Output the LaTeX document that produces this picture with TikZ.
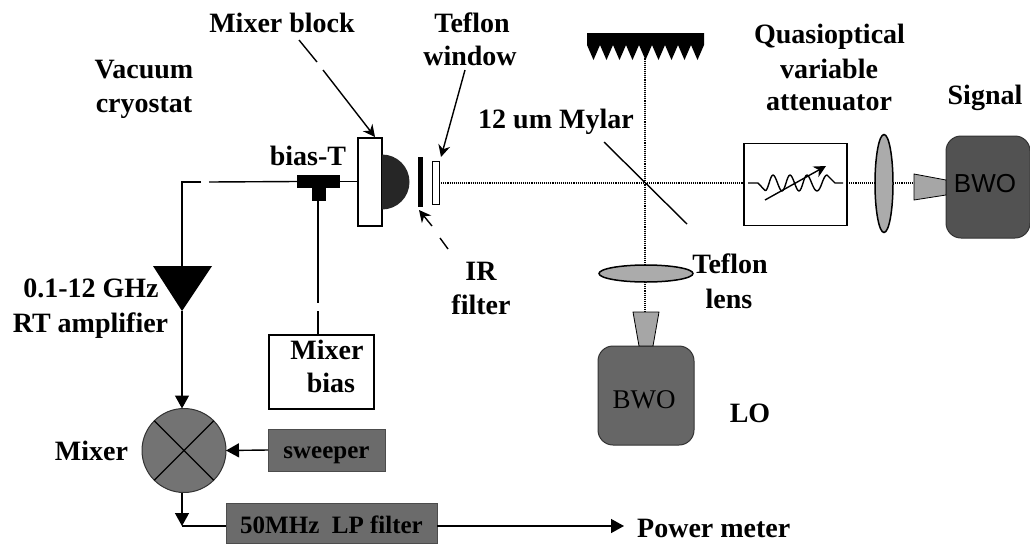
\documentclass[tikz,border=0pt]{standalone}
\usepackage{fontspec}
\setmainfont{Liberation Serif}
\setsansfont{Liberation Sans}
\usetikzlibrary{arrows.meta,shapes.geometric}
\begin{document}
\begin{tikzpicture}[
	x=1pt, y=-1pt,
	lbl/.style={font=\fontsize{28}{30}\selectfont\bfseries, anchor=base, inner sep=0pt},
	box/.style={draw, line width=1.4pt, fill=white, inner sep=0pt, outer sep=0pt},
	graybox/.style={draw=black!70, line width=0.6pt, fill=black!58, inner sep=0pt, outer sep=0pt, font=\fontsize{25}{28}\selectfont\bfseries},
	bwo/.style={draw=black!80, line width=1pt, rounded corners=15pt, inner sep=0pt, outer sep=0pt},
	lens/.style={ellipse, draw, line width=1.5pt, fill=black!33, inner sep=0pt, outer sep=0pt},
	solid/.style={fill=black, inner sep=0pt, outer sep=0pt},
	wire/.style={line width=1.4pt},
	arr/.style={line width=1.4pt, -{Triangle[length=13pt,width=14pt]}},
	thin arr/.style={line width=1.4pt, -{Stealth[length=12pt,width=12pt]}},
	beam/.style={line width=1.1pt, densely dotted}
]
\useasboundingbox (0,0) rectangle (1030,544);

% receiver side
\node[box, minimum width=24pt, minimum height=88pt] (block) at (370,182) {};
\fill[black!85] (382,154.5) arc[start angle=90, end angle=-90, radius=27.5pt] -- cycle;
\node[solid, minimum width=5pt, minimum height=50pt] (irfilter) at (420.5,182) {};
\node[box, line width=1pt, minimum width=7pt, minimum height=43pt] (window) at (435.5,182.5) {};
\node[solid, minimum width=43pt, minimum height=13pt] (biasT) at (318.5,181.5) {};
\node[solid, minimum width=14pt, minimum height=14pt] (biasTstem) at (319,194) {};
\node[box, minimum width=105pt, minimum height=74pt] (bias) at (321.5,372) {};

% amplifier and mixer
\coordinate (ampL) at (153,266);
\coordinate (ampR) at (212,266);
\coordinate (ampT) at (182,311);
\fill (ampL) -- (ampR) -- (ampT) -- cycle;
\node[circle, draw=black!80, line width=1pt, fill=black!55, minimum size=84pt, inner sep=0pt, outer sep=0pt] (mix) at (184,450.5) {};
\draw[line width=1.2pt] (mix.45) -- (mix.225) (mix.135) -- (mix.315);
\node[graybox, minimum width=117pt, minimum height=42pt] (sweeper) at (326.5,450) {\raisebox{-8pt}[0pt][0pt]{sweeper}};
\node[graybox, minimum width=211pt, minimum height=40pt] (lpf) at (331.5,523.5) {\raisebox{-9.5pt}[0pt][0pt]{50MHz\ \ LP filter}};

% quasioptics
\node[box, minimum width=103pt, minimum height=82pt] (atten) at (795.5,184.5) {};
\node[lens, minimum width=18pt, minimum height=98pt] (siglens) at (884,183.5) {};
\node[lens, minimum width=94pt, minimum height=17pt] (lolens) at (646,273.5) {};
\node[bwo, fill=black!68, minimum width=84pt, minimum height=102pt] (sigbwo) at (988,187) {};
\node[bwo, fill=black!60, minimum width=96pt, minimum height=99pt] (lobwo) at (646,395.5) {};
\node[font=\fontsize{26}{28}\selectfont\sffamily, text=black, inner sep=0pt] (sigbwotxt) at (985,183.5) {BWO};
\node[font=\fontsize{27}{28}\selectfont, text=black, inner sep=0pt] (lobwotxt) at (644,400) {BWO};
\coordinate (sighorn) at (914,187);
\coordinate (lohorn) at (646,312);
\draw[line width=0.8pt, fill=black!35] (sighorn |- 0,174) -- (946,180) -- (946,195) -- (sighorn |- 0,200) -- cycle;
\draw[line width=0.8pt, fill=black!35] (lohorn -| 633,0) -- (lohorn -| 659,0) -- (653,346) -- (639,346) -- cycle;

% grating
\coordinate (grating) at (645,50);
\fill (587,33) -- (704,33) -- (704,45)
	\foreach \i in {8,...,0} { -- ({587+13*\i+6.5},60) -- ({587+13*\i},45) } -- cycle;

% beam path
\coordinate (cross) at (645,183);
\draw[beam] (window.east |- cross) -- (atten.west |- cross);
\draw[beam] (atten.east |- cross) -- (siglens.west |- cross);
\draw[beam] (siglens.east |- cross) -- (sighorn |- cross);
\draw[beam] (grating) -- (lolens.north -| cross);
\draw[beam] (lolens.south -| cross) -- (lohorn -| cross);

% mylar
\coordinate (mylarA) at (604,142);
\coordinate (mylarB) at (687,224);
\draw[line width=1.4pt] (mylarA) -- (mylarB);

% attenuator symbol
\draw[wire, line join=round] (748,183) -- (758,183) -- (765,190.5)
	.. controls (768,192) and (770,175) .. (773,175)
	.. controls (776,175) and (779,191) .. (782,191)
	.. controls (785,191) and (787,175) .. (790,175)
	.. controls (793,175) and (796,191) .. (799,191)
	.. controls (802,191) and (804,175) .. (807,175)
	.. controls (810,175) and (813,191) .. (817,191)
	.. controls (821,191) and (823,175) .. (827,175)
	-- (835,183) -- (843,183);
\coordinate (attA) at (765,200);
\coordinate (attB) at (826,166);
\draw[thin arr] (attA) -- (attB);

% wires
\coordinate (corner) at (182,182);
\coordinate (gapA) at (201,182);
\coordinate (gapB) at (209,182);
\coordinate (gapC) at (318,303);
\coordinate (gapD) at (318,311);
\draw[wire] (block.west |- biasT) -- (biasT.east);
\draw[wire] (biasT.west) -- (gapB);
\draw[wire] (gapA) -- (corner) -- (ampT |- ampL);
\draw[wire] (biasTstem.south -| gapC) -- (gapC);
\draw[wire] (gapD) -- (gapD |- bias.north);
\draw[arr] (ampT) -- (mix.north -| ampT);
\draw[arr] (sweeper.west) -- (mix.east);
\coordinate (lpturn) at (182,526);
\coordinate (powertip) at (624,526);
\draw[arr] (mix.south -| lpturn) -- (lpturn);
\draw[wire] (lpturn) -- (lpf.west |- lpturn);
\draw[arr] (lpf.east |- lpturn) -- (powertip);
\node[lbl, anchor=base west] (power) at (637,537) {Power meter};

% pointers
\coordinate (blockA) at (299,40);
\coordinate (blockB) at (317,62);
\coordinate (blockC) at (323,70);
\coordinate (blockD) at (375,137);
\draw[wire] (blockA) -- (blockB);
\draw[thin arr] (blockC) -- (blockD);
\coordinate (winA) at (465,70);
\coordinate (winB) at (441,157);
\draw[thin arr] (winA) -- (winB);
\coordinate (irA) at (448,249);
\coordinate (irB) at (440,238);
\coordinate (irC) at (432,226);
\coordinate (irD) at (419,210);
\draw[wire] (irA) -- (irB);
\draw[thin arr] (irC) -- (irD);

% labels
\node[lbl] (lblblock) at (282,32) {Mixer block};
\node[lbl] (lblcryoA) at (144,78) {Vacuum};
\node[lbl] (lblcryoB) at (144,112) {cryostat};
\node[lbl] (lblbiasT) at (308,165) {bias-T};
\node[lbl] (lblwinA) at (472,32) {Teflon};
\node[lbl] (lblwinB) at (470,65) {window};
\node[lbl] (lblmylar) at (556,128) {12 um Mylar};
\node[lbl] (lblqA) at (829.5,43) {Quasioptical};
\node[lbl] (lblqB) at (829,78) {variable};
\node[lbl] (lblqC) at (829,110) {attenuator};
\node[lbl] (lblsig) at (985,104) {Signal};
\node[lbl] (lblirA) at (481,280) {IR};
\node[lbl] (lblirB) at (481,314) {filter};
\node[lbl] (lblampA) at (91,297) {0.1-12 GHz};
\node[lbl] (lblampB) at (90.5,332) {RT amplifier};
\node[lbl] (lblbiasA) at (327,359) {Mixer};
\node[lbl] (lblbiasB) at (331,392) {bias};
\node[lbl] (lblmix) at (91.5,460) {Mixer};
\node[lbl] (lbllensA) at (730,273) {Teflon};
\node[lbl] (lbllensB) at (729,308) {lens};
\node[lbl] (lbllo) at (750,422) {LO};
\end{tikzpicture}
\end{document}
